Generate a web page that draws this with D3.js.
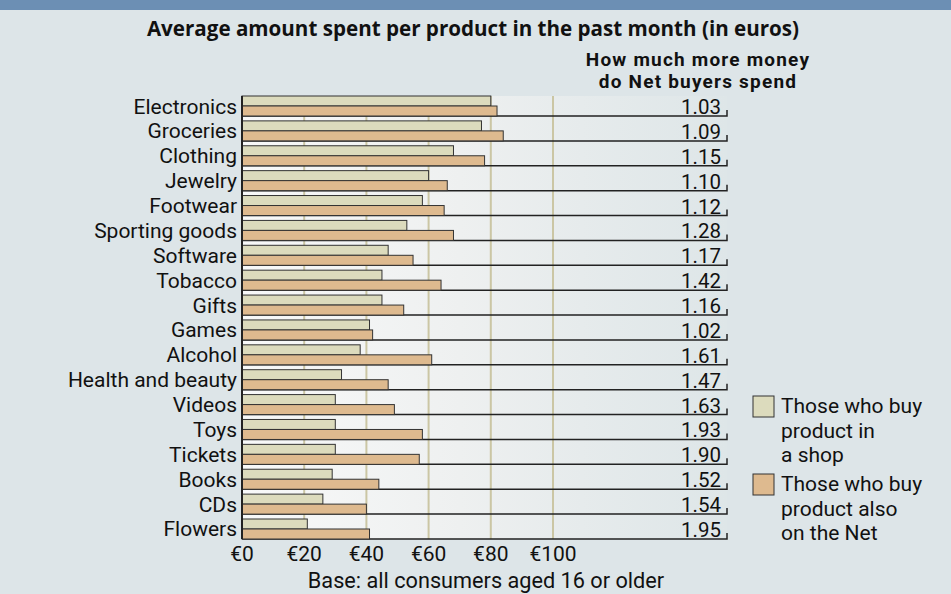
<!DOCTYPE html>
<html>
<head>
<meta charset="utf-8">
<script src="https://cdn.jsdelivr.net/npm/d3@7"></script>
<style>
  html, body { margin: 0; padding: 0; background: #dde5e8; }
  svg { display: block; }
  text { font-family: Roboto, "Open Sans", sans-serif; fill: #111; }
</style>
</head>
<body>
<svg id="chart" width="951" height="594"></svg>
<script>
const categories = ["Electronics","Groceries","Clothing","Jewelry","Footwear","Sporting goods","Software","Tobacco","Gifts","Games","Alcohol","Health and beauty","Videos","Toys","Tickets","Books","CDs","Flowers"];
const shopValues = [80,77,68,60,58,53,47,45,45,41,38,32,30,30,30,29,26,21];
const netValues  = [82,84,78,66,65,68,55,64,52,42,61,47,49,58,57,44,40,41];
const ratios = ["1.03","1.09","1.15","1.10","1.12","1.28","1.17","1.42","1.16","1.02","1.61","1.47","1.63","1.93","1.90","1.52","1.54","1.95"];
const tickValues = [0,20,40,60,80,100];
const tickLabels = ["€0","€20","€40","€60","€80","€100"];
const seriesNames = [["Those who buy","product in","a shop"],["Those who buy","product also","on the Net"]];
const title = "Average amount spent per product in the past month (in euros)";
const subtitle = ["How much more money","do Net buyers spend"];
const footnote = "Base: all consumers aged 16 or older";

(function () {
const colShop = "#dcdbbd", colNet = "#deba8f";
const svg = d3.select("#chart");
const W = 951, H = 594;
const fs = 21;

svg.append("rect").attr("width", W).attr("height", H).attr("fill", "#dde5e8");
svg.append("rect").attr("width", W).attr("height", 10).attr("fill", "#6c8fb4");

const x = d3.scaleLinear().domain([0, 100]).range([242, 553]);
const rowRight = 727;
const y = d3.scaleBand().domain(categories).range([96, 539]).paddingInner(0.196).paddingOuter(0);
const bh = y.bandwidth() / 2;
const plotTop = 96, plotBottom = y(categories[categories.length - 1]) + y.bandwidth();

const defs = svg.append("defs");
const grad = defs.append("linearGradient").attr("id", "bg").attr("x1", "0").attr("x2", "1").attr("y1", "0").attr("y2", "0");
grad.append("stop").attr("offset", "0%").attr("stop-color", "#f8f9f9");
grad.append("stop").attr("offset", "45%").attr("stop-color", "#eef0f0");
grad.append("stop").attr("offset", "70%").attr("stop-color", "#e6ebec");
grad.append("stop").attr("offset", "100%").attr("stop-color", "#dee6e8");
svg.append("rect").attr("x", x(0)).attr("y", plotTop).attr("width", rowRight - x(0)).attr("height", plotBottom - plotTop).attr("fill", "url(#bg)");

svg.append("g").selectAll("line").data(tickValues.slice(1)).join("line")
  .attr("x1", d => x(d)).attr("x2", d => x(d))
  .attr("y1", plotTop).attr("y2", plotBottom)
  .attr("stroke", "#cbc6a4").attr("stroke-width", 2);

svg.append("g").selectAll("path").data(categories).join("path")
  .attr("d", d => { const yy = y(d) + y.bandwidth(); return `M${x(0)},${yy}H${rowRight}V${yy - 6}`; })
  .attr("fill", "none").attr("stroke", "#222").attr("stroke-width", 1.5);

svg.append("g").selectAll("rect").data(categories).join("rect")
  .attr("x", x(0)).attr("y", d => y(d))
  .attr("width", (d, i) => x(shopValues[i]) - x(0)).attr("height", bh)
  .attr("fill", colShop).attr("stroke", "#333").attr("stroke-width", 1);
svg.append("g").selectAll("rect").data(categories).join("rect")
  .attr("x", x(0)).attr("y", d => y(d) + bh)
  .attr("width", (d, i) => x(netValues[i]) - x(0)).attr("height", bh)
  .attr("fill", colNet).attr("stroke", "#333").attr("stroke-width", 1);

svg.append("line").attr("x1", x(0)).attr("x2", x(0)).attr("y1", plotTop).attr("y2", plotBottom)
  .attr("stroke", "#222").attr("stroke-width", 2);

svg.append("g").selectAll("text").data(categories).join("text")
  .attr("x", 237).attr("y", d => y(d) + 17.5)
  .attr("text-anchor", "end").attr("font-size", fs).text(d => d);

svg.append("g").selectAll("text").data(categories).join("text")
  .attr("x", 721).attr("y", d => y(d) + 18)
  .attr("text-anchor", "end").attr("font-size", 20.5).text((d, i) => ratios[i]);

svg.append("g").selectAll("text").data(tickValues).join("text")
  .attr("x", d => x(d)).attr("y", 561)
  .attr("text-anchor", "middle").attr("font-size", fs).text((d, i) => tickLabels[i]);

svg.append("text").attr("x", 473).attr("y", 36).attr("text-anchor", "middle")
  .style("font-family", "'Open Sans', Roboto, sans-serif")
  .attr("font-size", 20.6).attr("font-weight", "bold").text(title);
svg.append("g").selectAll("text").data(subtitle).join("text")
  .attr("text-anchor", "middle").attr("font-size", 19).attr("font-weight", "bold")
  .attr("letter-spacing", 1.2)
  .attr("x", 698).attr("y", (d, i) => 65.5 + i * 22.5).text(d => d);

svg.append("text").attr("x", 486).attr("y", 588).attr("text-anchor", "middle")
  .attr("font-size", 21.7).text(footnote);

const legend = svg.append("g");
[colShop, colNet].forEach((c, k) => {
  const ly = 396 + k * 78;
  legend.append("rect").attr("x", 753).attr("y", ly).attr("width", 21).attr("height", 21)
    .attr("fill", c).attr("stroke", "#333").attr("stroke-width", 1);
  legend.append("g").selectAll("text").data(seriesNames[k]).join("text")
    .attr("font-size", fs).attr("x", 781).attr("y", (s, j) => ly + 17 + j * 24.7).text(s => s);
});
})();
</script>
</body>
</html>
